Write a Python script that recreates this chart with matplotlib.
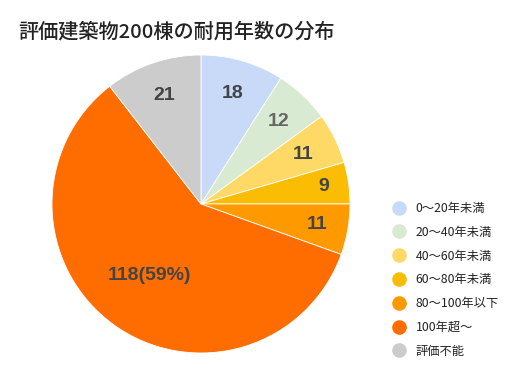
import numpy as np
import matplotlib
matplotlib.use("Agg")
import matplotlib.pyplot as plt
from matplotlib.lines import Line2D

plt.rcParams['font.family'] = ['Noto Sans CJK JP', 'DejaVu Sans']

# data
categories = ["0〜20年未満", "20〜40年未満", "40〜60年未満", "60〜80年未満",
              "80〜100年以下", "100年超〜", "評価不能"]
counts = [18, 12, 11, 9, 11, 118, 21]
colors = ["#c9daf8", "#d9ead3", "#ffd966", "#fbbc04", "#ff9900", "#ff6d01", "#cccccc"]
slice_labels = ["18", "12", "11", "9", "11", "118(59%)", "21"]
label_colors = ["#444444", "#666666", "#444444", "#444444", "#444444", "#444444", "#444444"]
# radial position of each label (fraction of radius)
label_dist = [0.77, 0.76, 0.76, 0.83, 0.79, 0.59, 0.77]

W, H = 509, 371
fig = plt.figure(figsize=(W / 100, H / 100), dpi=100)

# pie axes: centre (201, 204) px, radius 149 px
cx, cy, r = 201, 204, 149
ax = fig.add_axes([(cx - r) / W, (H - cy - r) / H, 2 * r / W, 2 * r / H])
wedges, _ = ax.pie(counts, colors=colors, startangle=90, counterclock=False,
                   radius=1, wedgeprops=dict(edgecolor="white", linewidth=0.6))
ax.set_xlim(-1, 1)
ax.set_ylim(-1, 1)
ax.set_aspect("equal")
ax.axis("off")

# slice labels
total = sum(counts)
start = 90.0
for i, v in enumerate(counts):
    ang = start - v / total * 360 / 2
    start -= v / total * 360
    x = label_dist[i] * np.cos(np.radians(ang))
    y = label_dist[i] * np.sin(np.radians(ang))
    ax.text(x, y, slice_labels[i], ha="center", va="center", fontsize=14,
            fontweight="bold", color=label_colors[i], family=["Liberation Sans", "DejaVu Sans"])

# title
fig.text(18 / W, 1 - 32 / H, "評価建築物200棟の耐用年数の分布", fontsize=14.5,
         fontweight="medium", color="#222222", va="center", ha="left")

# legend
handles = [Line2D([], [], marker="o", linestyle="none", markersize=9.5,
                  markerfacecolor=c, markeredgecolor=c) for c in colors]
fig.legend(handles, categories, loc="upper left", bbox_to_anchor=(391.5 / W, 1 - 202 / H),
           frameon=False, fontsize=8.8, labelspacing=0.88, handletextpad=0.78,
           handlelength=1.2, borderaxespad=0, borderpad=0, labelcolor="#222222")

fig.savefig("out.png", dpi=100)
